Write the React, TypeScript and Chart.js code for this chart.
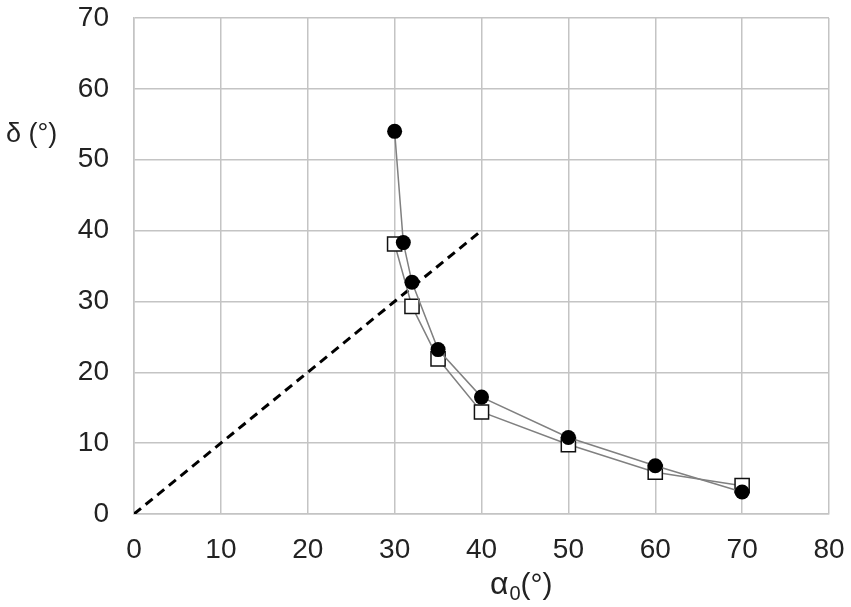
import React, { useEffect, useRef } from 'react';
import { Chart, registerables } from 'chart.js';

Chart.register(...registerables);

const circleX = [30, 31, 32, 35, 40, 50, 60, 70];
const circleY = [54, 38.3, 32.7, 23.2, 16.5, 10.8, 6.8, 3.1];
const squareX = [30, 32, 35, 40, 50, 60, 70];
const squareY = [38.1, 29.3, 21.9, 14.4, 9.8, 5.9, 4.0];
const diagonalX = [0, 40];
const diagonalY = [0, 40];
const xTicks = [0, 10, 20, 30, 40, 50, 60, 70, 80];
const yTicks = [0, 10, 20, 30, 40, 50, 60, 70];

const FONT = "'Liberation Sans', Arial, sans-serif";

const toPoints = (xs: number[], ys: number[]) => xs.map((x, i) => ({ x, y: ys[i] }));

// axis titles: horizontal y title and an x title with a subscript
const axisTitles = {
  id: 'axisTitles',
  afterDraw(chart: Chart) {
    const { ctx } = chart;
    ctx.save();
    ctx.fillStyle = '#222';
    ctx.textBaseline = 'alphabetic';
    ctx.textAlign = 'left';
    ctx.font = `27px ${FONT}`;
    ctx.fillText('δ (°)', 6, 142);

    let x = 490;
    const base = 594;
    ctx.font = `32px ${FONT}`;
    ctx.fillText('α', x, base);
    x += ctx.measureText('α').width + 1;
    ctx.font = `20px ${FONT}`;
    ctx.fillText('0', x, base + 6);
    x += ctx.measureText('0').width;
    ctx.font = `30px ${FONT}`;
    ctx.fillText('(°)', x, base);
    ctx.restore();
  },
};

const noPadding = (scale: any) => {
  scale.paddingTop = 0;
  scale.paddingBottom = 0;
  scale.paddingLeft = 0;
  scale.paddingRight = 0;
};

const App: React.FC = () => {
  const canvasRef = useRef<HTMLCanvasElement | null>(null);
  const chartRef = useRef<Chart | null>(null);

  useEffect(() => {
    document.body.style.margin = '0';
    if (!canvasRef.current) return;
    if (chartRef.current) chartRef.current.destroy();

    chartRef.current = new Chart(canvasRef.current, {
      type: 'scatter',
      data: {
        datasets: [
          {
            label: 'circles',
            data: toPoints(circleX, circleY),
            showLine: true,
            borderColor: '#808080',
            borderWidth: 1.5,
            pointStyle: 'circle',
            pointRadius: 7.5,
            pointBackgroundColor: '#000',
            pointBorderColor: '#000',
            pointBorderWidth: 0,
          },
          {
            label: 'squares',
            data: toPoints(squareX, squareY),
            showLine: true,
            borderColor: '#808080',
            borderWidth: 1.5,
            pointStyle: 'rect',
            pointRadius: 10,
            pointBackgroundColor: '#fff',
            pointBorderColor: '#111',
            pointBorderWidth: 1.5,
          },
          {
            label: 'diagonal',
            data: toPoints(diagonalX, diagonalY),
            showLine: true,
            borderColor: '#000',
            borderWidth: 3,
            borderDash: [9, 6],
            pointRadius: 0,
          },
        ],
      },
      options: {
        responsive: false,
        animation: false,
        layout: { padding: { top: 18, right: 22, left: 0, bottom: 0 } },
        plugins: {
          legend: { display: false },
          tooltip: { enabled: false },
        },
        scales: {
          x: {
            type: 'linear',
            min: 0,
            max: 80,
            afterBuildTicks: (scale: any) => {
              scale.ticks = xTicks.map((v) => ({ value: v }));
            },
            afterFit: (scale: any) => {
              scale.height = 93;
              noPadding(scale);
            },
            grid: { color: '#c4c4c4', lineWidth: 1.5, drawTicks: false },
            border: { color: '#c4c4c4', width: 1.5 },
            ticks: {
              color: '#222',
              padding: 19,
              font: { family: FONT, size: 28 },
            },
          },
          y: {
            type: 'linear',
            min: 0,
            max: 70,
            afterBuildTicks: (scale: any) => {
              scale.ticks = yTicks.map((v) => ({ value: v }));
            },
            afterFit: (scale: any) => {
              scale.width = 134;
              noPadding(scale);
            },
            grid: { color: '#c4c4c4', lineWidth: 1.5, drawTicks: false },
            border: { color: '#c4c4c4', width: 1.5 },
            ticks: {
              color: '#222',
              padding: 25,
              font: { family: FONT, size: 28 },
            },
          },
        },
      },
      plugins: [axisTitles],
    });

    return () => {
      if (chartRef.current) {
        chartRef.current.destroy();
        chartRef.current = null;
      }
    };
  }, []);

  return <canvas ref={canvasRef} width={851} height={607} style={{ display: 'block' }} />;
};

export default App;
